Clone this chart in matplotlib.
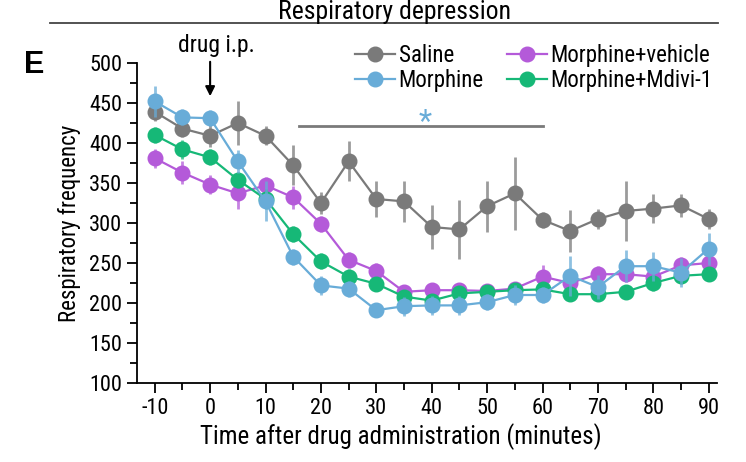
import numpy as np
import matplotlib.pyplot as plt
from matplotlib.lines import Line2D
from matplotlib.ticker import MultipleLocator
from matplotlib import font_manager

# Arial Narrow look-alike if one is installed
names = {f.name for f in font_manager.fontManager.ttflist}
fam = 'Liberation Sans'
for cand in ['Liberation Sans Narrow', 'Arial Narrow', 'Roboto Condensed',
             'Archivo Narrow', 'Barlow Semi Condensed']:
    if cand in names:
        fam = cand
        break
plt.rcParams['font.family'] = [fam, 'DejaVu Sans']
plt.rcParams['axes.unicode_minus'] = False

minutes = np.arange(-10, 95, 5)

saline = [439, 418, 409, 425, 409, 372, 325, 377, 330, 327, 295, 292,
          321, 337, 304, 290, 305, 315, 318, 322, 305]
saline_err = [12, 10, 14, 28, 12, 25, 14, 25, 22, 26, 28, 37,
              32, 46, 10, 26, 12, 38, 18, 14, 12]

morphine = [452, 432, 431, 377, 327, 258, 222, 218, 191, 196, 197, 197,
            201, 210, 210, 234, 220, 246, 246, 238, 268]
morphine_err = [19, 10, 10, 14, 25, 10, 12, 10, 8, 12, 12, 12,
                10, 12, 10, 25, 15, 20, 18, 18, 20]

morph_vehicle = [381, 363, 348, 337, 347, 332, 299, 254, 240, 214, 216, 216,
                 215, 218, 233, 225, 236, 236, 233, 247, 250]
morph_vehicle_err = [12, 14, 12, 20, 10, 14, 10, 10, 10, 8, 8, 8,
                     8, 8, 15, 10, 10, 10, 10, 10, 10]

morph_mdivi = [410, 392, 382, 354, 330, 286, 252, 233, 224, 208, 203, 212,
               214, 216, 217, 211, 211, 214, 225, 234, 236]
morph_mdivi_err = [10, 12, 10, 10, 12, 10, 10, 10, 8, 8, 8, 8,
                   8, 8, 8, 8, 8, 8, 10, 10, 8]

gray = '#7a7a7a'
blue = '#68acd8'
purple = '#b45ad9'
green = '#16b877'

fig = plt.figure(figsize=(7.46, 4.62), dpi=100)
ax = fig.add_axes([137/746, 1-383/462, (717-137)/746, (383-63)/462])

series = {}
def draw(y, err, color, label, z):
    h = ax.errorbar(minutes, y, yerr=err, color=color, ecolor=color, elinewidth=2,
                    capsize=0, lw=1.6, marker='o', ms=10.5, mec=color, mfc=color,
                    label=label, zorder=z)
    h[2][0].set_alpha(0.75)
    series[label] = h

draw(saline, saline_err, gray, 'Saline', 2)
draw(morph_vehicle, morph_vehicle_err, purple, 'Morphine+vehicle', 3)
draw(morph_mdivi, morph_mdivi_err, green, 'Morphine+Mdivi-1', 4)
draw(morphine, morphine_err, blue, 'Morphine', 5)

ax.set_xlim(-13.2, 91.5)
ax.set_ylim(100, 500)
ax.xaxis.set_major_locator(MultipleLocator(10))
ax.xaxis.set_minor_locator(MultipleLocator(5))
ax.yaxis.set_major_locator(MultipleLocator(50))
ax.yaxis.set_minor_locator(MultipleLocator(25))
ax.tick_params(which='major', length=7.5, width=1.3, labelsize=16, direction='out', pad=3)
ax.tick_params(which='minor', length=5, width=1.3)
for s in ['top', 'right']:
    ax.spines[s].set_visible(False)
for s in ['left', 'bottom']:
    ax.spines[s].set_linewidth(1.3)

ax.set_xlabel('Time after drug administration (minutes)', fontsize=18, labelpad=0)
ax.xaxis.set_label_coords((401-137)/580, -0.125)
ax.set_ylabel('Respiratory frequency', fontsize=16.5, labelpad=6)

# significance bar
ax.plot([16, 60], [421, 421], color=gray, lw=2, zorder=1)
ax.text(38.8, 407, '*', color=blue, fontsize=22, ha='center', va='bottom')

# injection arrow
ax.annotate('', xy=(0, 455), xytext=(0, 505), annotation_clip=False,
            arrowprops=dict(arrowstyle='-|>', color='black', lw=1.5, mutation_scale=14))
ax.text(1.2, 508, 'drug i.p.', ha='center', va='bottom', fontsize=17, clip_on=False)

order = ['Saline', 'Morphine', 'Morphine+vehicle', 'Morphine+Mdivi-1']
handles = [Line2D([], [], color=series[k][0].get_color(), marker='o', ms=10.5, lw=1.6)
           for k in order]
fig.legend(handles, order, ncol=2, loc='upper left', bbox_to_anchor=(355/746, 1-44/462),
           frameon=False, fontsize=16.5, handlelength=1.75, handletextpad=0.15,
           columnspacing=1.0, labelspacing=0.1, borderaxespad=0, borderpad=0)

fig.text(395/746, 1-12/462, 'Respiratory depression', ha='center', va='center', fontsize=18.5)
fig.add_artist(Line2D([50/746, 718/746], [1-23/462, 1-23/462], color='#444444', lw=1.3))
fig.text(24/746, 1-65/462, 'E', fontsize=22, fontweight='bold', ha='left', va='center',
         family='Liberation Sans')

fig.savefig('out.png', dpi=100)
